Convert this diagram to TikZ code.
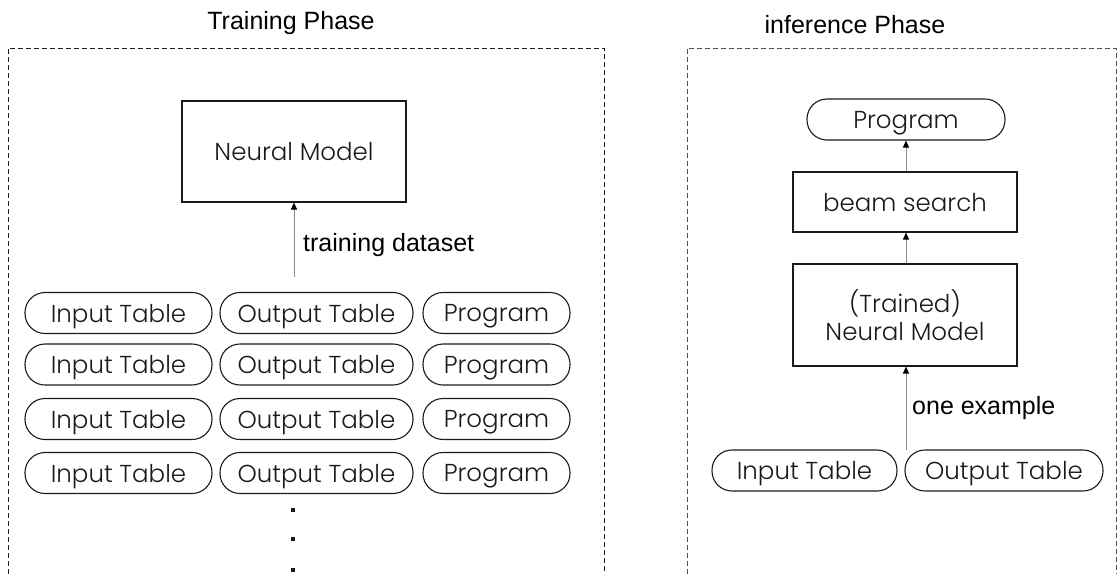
\documentclass[tikz,border=0pt]{standalone}
\usepackage{fontspec}
\setmainfont{Poppins}[UprightFont=*-Light]
\newfontfamily\labelfont{Liberation Sans}
\usetikzlibrary{arrows.meta}

\definecolor{ink}{HTML}{1A1A1A}
\definecolor{wire}{HTML}{8C8C8C}

\tikzset{
  boxnode/.style={draw=ink, line width=1.1pt, inner sep=0pt, text=ink,
    font=\fontsize{24.5}{28}\selectfont, align=center, text depth=0pt},
  pill/.style={boxnode, rounded corners=20pt, minimum height=41pt},
  flow/.style={draw=wire, line width=1pt,
    -{Triangle[length=7pt, width=6pt, color=black]}},
  phase/.style={dash pattern=on 5pt off 3pt, line width=0.9pt},
  title/.style={font=\labelfont\fontsize{25}{29}\selectfont, text=black, inner sep=0pt},
  edgelabel/.style={font=\labelfont\fontsize{25}{29}\selectfont, text=black,
    inner sep=0pt, anchor=west},
  dotmark/.style={fill=ink, minimum size=4pt, inner sep=0pt}
}

\begin{document}
\begin{tikzpicture}[x=1pt, y=-1pt]
\useasboundingbox (0,0) rectangle (1117,574);

% phase frames, open at the bottom
\draw[phase, draw=ink] (8,574) -- (8,48) -- (604,48) -- (604,574);
\draw[phase, draw=ink!75] (687,574) -- (687,48) -- (1116,48) -- (1116,574);

\node[title] (ttrain) at (291,23) {Training Phase};
\node[title] (tinfer) at (855,25) {inference Phase};

% training phase
\node[boxnode, minimum width=224pt, minimum height=101pt] (model) at (294,151.5) {Neural Model};

\foreach \r/\y in {1/313, 2/364.5, 3/419, 4/473} {
  \node[pill, minimum width=187pt] (in\r)   at (118.5,\y) {Input Table};
  \node[pill, minimum width=193pt] (out\r)  at (316.5,\y) {Output Table};
  \node[pill, minimum width=147pt] (prog\r) at (496.5,\y) {Program};
}

\coordinate (dstail) at (294,277);
\draw[flow] (dstail) -- (model.south);
\node[edgelabel] (dslabel) at (303,245) {training dataset};

\node[dotmark] (dot1) at (293,510) {};
\node[dotmark] (dot2) at (293,539) {};
\node[dotmark] (dot3) at (293,570) {};

% inference phase
\node[pill, minimum width=198pt] (iprog) at (906,119.5) {Program};
\node[boxnode, minimum width=224pt, minimum height=60pt] (beam) at (905,202) {beam search};
\node[boxnode, minimum width=224pt, minimum height=102pt] (tmodel) at (905,315) {(Trained)\\Neural Model};
\node[pill, minimum width=185pt] (iin)  at (804.5,470.5) {Input Table};
\node[pill, minimum width=198pt] (iout) at (1004,470.5) {Output Table};

\coordinate (extail) at (906,450);
\draw[flow] (extail) -- (tmodel.south -| extail);
\draw[flow] (tmodel.north -| extail) -- (beam.south -| extail);
\draw[flow] (beam.north -| extail) -- (iprog.south -| extail);
\node[edgelabel] (exlabel) at (912,408) {one example};

\end{tikzpicture}
\end{document}
